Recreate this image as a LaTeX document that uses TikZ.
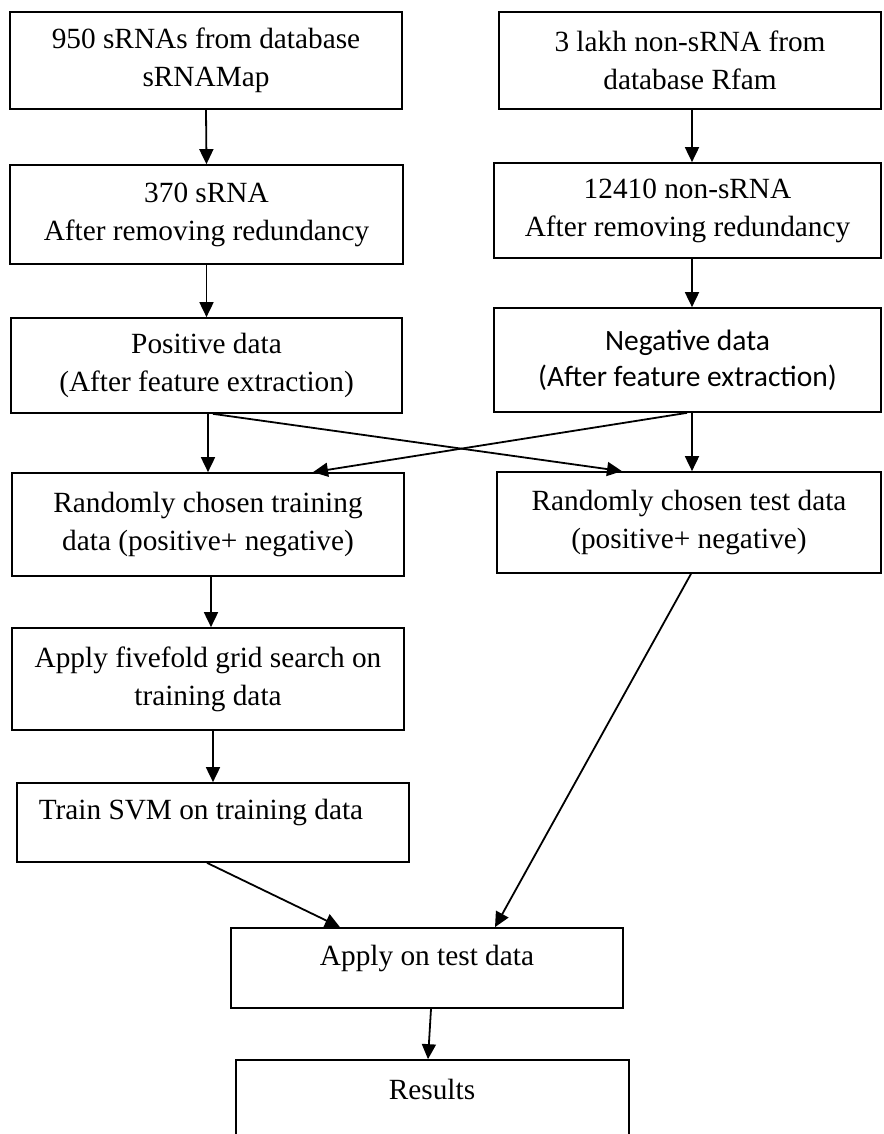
\documentclass[tikz,border=0pt]{standalone}
\usepackage{fontspec}
\setmainfont{Liberation Serif}
\newfontfamily\calib{Carlito}
\usetikzlibrary{arrows.meta}
\begin{document}
\begin{tikzpicture}[x=1pt,y=-1pt,
  box/.style={draw, line width=1.7pt, inner sep=0pt, align=center,
    font=\fontsize{29.3}{38}\selectfont},
  sbox/.style={box, font=\calib\fontsize{29.5}{36}\selectfont},
  txt/.style={inner sep=0pt, font=\fontsize{29.3}{38}\selectfont},
  arr/.style={line width=1.8pt, -{Triangle[length=15pt,width=14pt]}}]
\useasboundingbox (0,0) rectangle (883,1134);
\clip (0,0) rectangle (883,1134);

\node[box, minimum width=392, minimum height=97] (b1) at (206,60.5) {950 sRNAs from database\\sRNAMap};
\node[box, minimum width=382, minimum height=97] (b2) at (690,60.5) {3 lakh non-sRNA from\\database Rfam};
\node[box, minimum width=393, minimum height=99] (b3) at (206.5,214.5) {370 sRNA\\After removing redundancy};
\node[box, minimum width=387, minimum height=95] (b4) at (687.5,210.5) {12410 non-sRNA\\After removing redundancy};
\node[box, minimum width=391, minimum height=95] (b5) at (206.5,365.5) {Positive data\\(After feature extraction)};
\node[sbox, minimum width=387, minimum height=104] (b6) at (687.5,360) {Negative data\\(After feature extraction)};
\node[box, minimum width=392, minimum height=103] (b7) at (208,524.5) {Randomly chosen training\\data (positive+ negative)};
\node[box, minimum width=384, minimum height=101] (b8) at (689,522.5) {Randomly chosen test data\\(positive+ negative)};
\node[box, minimum width=392, minimum height=102] (b9) at (208,679) {Apply fivefold grid search on\\training data};
\node[box, minimum width=392, minimum height=79] (b10) at (213,822.5) {};
\node[txt] (t10) at (201,812) {Train SVM on training data};
\node[box, minimum width=392, minimum height=80] (b11) at (427,968) {};
\node[txt] (t11) at (427,958) {Apply on test data};
\node[box, minimum width=393, minimum height=100] (b12) at (432.5,1110) {};
\node[txt] (t12) at (432,1089) {Results};

\draw[arr] (b1.south) -- (b3.north);
\draw[arr] ([xshift=2pt]b2.south) -- ([xshift=2pt]b2.south |- b4.north);
\draw[arr] (b3.south) -- (b3.south |- b5.north);
\draw[arr] ([xshift=4.5pt]b4.south) -- ([xshift=4.5pt]b4.south |- b6.north);
\draw[arr] ([xshift=1.5pt]b5.south) -- ([xshift=1.5pt]b5.south |- b7.north);
\draw[arr] ([xshift=4.5pt]b6.south) -- ([xshift=4.5pt]b6.south |- b8.north);
\draw[arr] ([xshift=6.5pt]b5.south) -- ([xshift=-67pt]b8.north);
\draw[arr] ([xshift=-0.5pt]b6.south) -- ([xshift=105pt]b7.north);
\draw[arr] ([xshift=3pt]b7.south) -- ([xshift=3pt]b7.south |- b9.north);
\draw[arr] ([xshift=5pt]b9.south) -- ([xshift=5pt]b9.south |- b10.north);
\draw[arr] ([xshift=-6pt]b10.south) -- ([xshift=-87pt]b11.north);
\draw[arr] ([xshift=2pt]b8.south) -- ([xshift=68pt]b11.north);
\draw[arr] ([xshift=4pt]b11.south) -- ([xshift=-4.5pt]b12.north);
\end{tikzpicture}
\end{document}
